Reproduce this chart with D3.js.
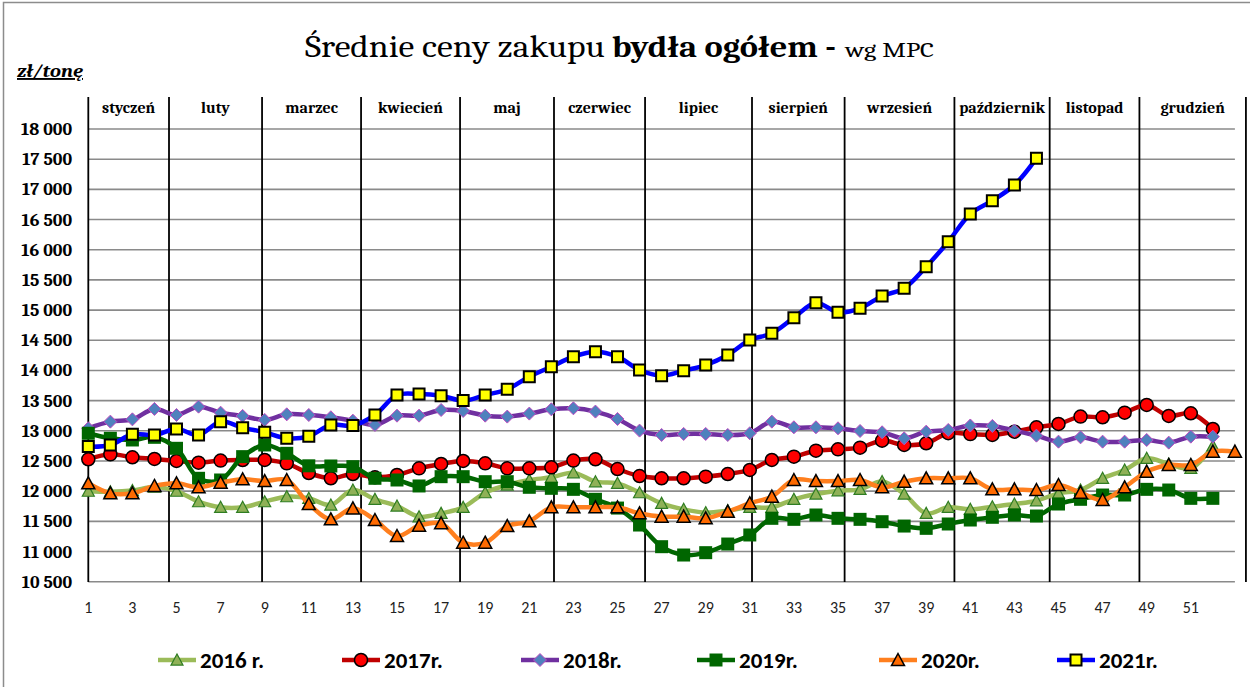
<!DOCTYPE html>
<html>
<head>
<meta charset="utf-8">
<script src="https://cdn.jsdelivr.net/npm/d3@7"></script>
<style>
  body { margin: 0; background: #fff; }
  svg { display: block; }
</style>
</head>
<body>
<div id="vis"></div>
<script>
// weekly prices, zł/tonę
const prices2016 = [12000, 11990, 12010, 12070, 12000, 11826, 11732, 11732, 11826, 11909,
  11882, 11771, 12019, 11865, 11754, 11577, 11633, 11732, 11975, 12102,
  12185, 12229, 12306, 12157, 12130, 11975, 11798, 11699, 11644, 11677,
  11732, 11732, 11865, 11953, 12008, 12030, 12160, 11953, 11633, 11732,
  11700, 11743, 11787, 11842, 11964, 12019, 12213, 12351, 12544, 12450,
  12378, 12750];
const prices2017 = [12528, 12610, 12561, 12533, 12500, 12472, 12506, 12516, 12517, 12461,
  12300, 12213, 12284, 12230, 12268, 12378, 12450, 12500, 12461, 12378,
  12378, 12395, 12506, 12528, 12367, 12251, 12213, 12213, 12240, 12284,
  12351, 12517, 12572, 12671, 12693, 12721, 12837, 12765, 12793, 12960,
  12945, 12931, 12986, 13058, 13113, 13235, 13224, 13301, 13428, 13246,
  13290, 13030];
const prices2018 = [13042, 13152, 13190, 13362, 13262, 13400, 13300, 13246, 13180, 13273,
  13262, 13224, 13168, 13097, 13251, 13251, 13345, 13329, 13251, 13235,
  13285, 13356, 13373, 13318, 13196, 13003, 12931, 12948, 12948, 12931,
  12959, 13152, 13058, 13058, 13041, 12997, 12975, 12876, 12986, 13014,
  13088, 13080, 13003, 12920, 12820, 12892, 12820, 12820, 12848, 12804,
  12903, 12903];
const prices2019 = [12959, 12876, 12848, 12892, 12710, 12213, 12185, 12572, 12765, 12627,
  12420, 12417, 12406, 12213, 12185, 12086, 12240, 12240, 12157, 12157,
  12064, 12047, 12030, 11865, 11720, 11439, 11080, 10942, 10981, 11124,
  11274, 11550, 11533, 11605, 11550, 11533, 11494, 11422, 11384, 11456,
  11522, 11567, 11605, 11588, 11787, 11865, 11936, 11936, 12030, 12019,
  11881, 11881];
const prices2020 = [12130, 11964, 11964, 12086, 12130, 12064, 12141, 12196, 12168, 12185,
  11787, 11533, 11715, 11522, 11257, 11428, 11467, 11146, 11146, 11422,
  11500, 11732, 11732, 11732, 11732, 11633, 11577, 11577, 11550, 11660,
  11800, 11909, 12185, 12168, 12168, 12185, 12064, 12157, 12213, 12213,
  12213, 12030, 12030, 12019, 12102, 11975, 11854, 12064, 12323, 12434,
  12434, 12655, 12655];
const prices2021 = [12738, 12765, 12942, 12931, 13030, 12931, 13152, 13052, 12975, 12876,
  12910, 13097, 13086, 13262, 13593, 13610, 13582, 13500, 13593, 13687,
  13897, 14062, 14228, 14310, 14228, 14007, 13913, 13996, 14090, 14256,
  14504, 14615, 14874, 15122, 14963, 15029, 15233, 15360, 15719, 16133,
  16592, 16813, 17072, 17514];

const seriesNames = ['2016 r.', '2017r.', '2018r.', '2019r.', '2020r.', '2021r.'];
const yTicks = d3.range(10500, 18001, 500);
const xTicks = d3.range(1, 52, 2);

const months = ['styczeń', 'luty', 'marzec', 'kwiecień', 'maj', 'czerwiec', 'lipiec',
  'sierpień', 'wrzesień', 'październik', 'listopad', 'grudzień'];
// month borders drawn by hand on the original, in week units
const monthBorders = [1, 4.66, 8.88, 13.37, 17.86, 22.12, 26.25, 31.1, 35.3, 40.28, 44.6, 48.67, 53.5];


const width = 1250;
const height = 687;

const x = d3.scaleLinear()
    .domain([1, 53])
    .range([88.3, 1234.9]);

const y = d3.scaleLinear()
    .domain([10500, 18000])
    .range([581.7, 129]);

const styles = [
  {line: '#9bbb59', fill: '#8fb157', stroke: '#2f7d22', sw: 1.2, shape: 'triangle', size: 12},
  {line: '#c00000', fill: '#ff0000', stroke: '#000', sw: 1.5, shape: 'circle', size: 13},
  {line: '#7030a0', fill: '#4f81bd', stroke: '#c04bc0', sw: 1, shape: 'diamond', size: 13},
  {line: '#006600', fill: '#006600', stroke: 'none', sw: 0, shape: 'square', size: 13},
  {line: '#ff7f1e', fill: '#ff6a00', stroke: '#000', sw: 1.5, shape: 'triangle', size: 13},
  {line: '#0000ff', fill: '#ffff00', stroke: '#000', sw: 2, shape: 'square', size: 11},
];

const series = [prices2016, prices2017, prices2018, prices2019, prices2020, prices2021]
  .map((values, i) => ({
    name: seriesNames[i],
    style: styles[i],
    points: values.map((v, j) => ({week: j + 1, value: v}))
  }));

const svg = d3.select('#vis').append('svg')
    .attr('width', width)
    .attr('height', height);

svg.append('rect')
    .attr('x', 3.5)
    .attr('y', 2.5)
    .attr('width', width + 10)
    .attr('height', height + 10)
    .attr('fill', '#fff')
    .attr('stroke', '#8c8c8c')
    .attr('stroke-width', 1.5);

drawTitle();
drawGrid();
drawMonths();
drawSeries();
drawLegend();


function markerPath(shape, size) {
  const h = size / 2;
  if (shape === 'triangle') return `M0,${-h}L${h},${h * 0.85}L${-h},${h * 0.85}Z`;
  if (shape === 'diamond') return `M0,${-h}L${h},0L0,${h}L${-h},0Z`;
  if (shape === 'square') return `M${-h},${-h}H${h}V${h}H${-h}Z`;
  return null;
}


function drawMarker(g, style) {
  if (style.shape === 'circle') {
    g.append('circle')
        .attr('r', style.size / 2)
        .attr('fill', style.fill)
        .attr('stroke', style.stroke)
        .attr('stroke-width', style.sw);
  } else {
    g.append('path')
        .attr('d', markerPath(style.shape, style.size))
        .attr('fill', style.fill)
        .attr('stroke', style.stroke)
        .attr('stroke-width', style.sw)
        .attr('stroke-linejoin', 'miter');
  }
}


function drawTitle() {
  const t = svg.append('g')
      .attr('font-family', "Cambria, 'Liberation Serif', serif")
      .attr('fill', '#000');

  t.append('text')
      .attr('x', 305).attr('y', 57)
      .attr('font-size', 31)
      .attr('textLength', 300)
      .attr('lengthAdjust', 'spacingAndGlyphs')
      .text('Średnie ceny zakupu');

  t.append('text')
      .attr('x', 612).attr('y', 57)
      .attr('font-size', 31)
      .attr('font-weight', 'bold')
      .attr('textLength', 224)
      .attr('lengthAdjust', 'spacingAndGlyphs')
      .text('bydła ogółem -');

  t.append('text')
      .attr('x', 845).attr('y', 57)
      .attr('font-size', 21)
      .attr('textLength', 89)
      .attr('lengthAdjust', 'spacingAndGlyphs')
      .text('wg MPC');

  t.append('text')
      .attr('x', 17).attr('y', 77)
      .attr('font-size', 19)
      .attr('font-weight', 'bold')
      .attr('font-style', 'italic')
      .attr('text-decoration', 'underline')
      .attr('textLength', 66)
      .attr('lengthAdjust', 'spacingAndGlyphs')
      .text('zł/tonę');
}


function drawGrid() {
  svg.append('g')
    .selectAll('line')
    .data(yTicks)
    .join('line')
      .attr('x1', x(1))
      .attr('x2', x(53))
      .attr('y1', d => y(d))
      .attr('y2', d => y(d))
      .attr('stroke', '#8a8a8a')
      .attr('stroke-width', 1.6);

  svg.append('g')
      .attr('font-family', "Cambria, 'Liberation Serif', serif")
      .attr('font-weight', 'bold')
      .attr('font-size', 18)
      .attr('text-anchor', 'end')
    .selectAll('text')
    .data(yTicks)
    .join('text')
      .attr('x', 72)
      .attr('y', d => y(d) + 6)
      .text(d => d3.format(',')(d).replace(',', ' '));

  svg.append('g')
      .attr('font-family', "'Liberation Sans Narrow', Calibri, 'Liberation Sans', sans-serif")
      .attr('font-size', 16)
      .attr('text-anchor', 'middle')
      .attr('fill', '#222')
    .selectAll('text')
    .data(xTicks)
    .join('text')
      .attr('x', d => x(d))
      .attr('y', 613)
      .text(d => d);
}


function drawMonths() {
  svg.append('g')
    .selectAll('line')
    .data(monthBorders)
    .join('line')
      .attr('x1', d => x(d))
      .attr('x2', d => x(d))
      .attr('y1', 97)
      .attr('y2', 582)
      .attr('stroke', '#000')
      .attr('stroke-width', 1.8);

  const mids = d3.pairs(monthBorders, (a, b) => (a + b) / 2);

  svg.append('g')
      .attr('font-family', "Cambria, 'Liberation Serif', serif")
      .attr('font-weight', 'bold')
      .attr('font-size', 16)
      .attr('text-anchor', 'middle')
    .selectAll('text')
    .data(months)
    .join('text')
      .attr('x', (d, i) => x(mids[i]))
      .attr('y', 113)
      .text(d => d);
}


function drawSeries() {
  const line = d3.line()
      .x(d => x(d.week))
      .y(d => y(d.value))
      .curve(d3.curveCatmullRom.alpha(0.5));

  const groups = svg.append('g')
    .selectAll('g')
    .data(series)
    .join('g');

  groups.append('path')
      .attr('d', d => line(d.points))
      .attr('fill', 'none')
      .attr('stroke', d => d.style.line)
      .attr('stroke-width', 4.5)
      .attr('stroke-linejoin', 'round');

  groups.each(function(s) {
    d3.select(this).selectAll('g.m')
      .data(s.points)
      .join('g')
        .attr('class', 'm')
        .attr('transform', d => `translate(${x(d.week)},${y(d.value)})`)
        .each(function() { drawMarker(d3.select(this), s.style); });
  });
}


function drawLegend() {
  const legendX = [158, 342, 521, 697, 879, 1057];

  const items = svg.append('g')
    .selectAll('g')
    .data(series)
    .join('g')
      .attr('transform', (d, i) => `translate(${legendX[i]}, 660)`);

  items.append('line')
      .attr('x1', 0)
      .attr('x2', 38)
      .attr('stroke', d => d.style.line)
      .attr('stroke-width', 4.5);

  items.each(function(s) {
    const m = d3.select(this).append('g').attr('transform', 'translate(19,0)');
    drawMarker(m, s.style);
  });

  items.append('text')
      .attr('x', 42)
      .attr('y', 8)
      .attr('font-family', "Calibri, 'Liberation Sans', Arial, sans-serif")
      .attr('font-weight', 'bold')
      .attr('font-size', 23)
      .text(d => d.name);
}
</script>
</body>
</html>
